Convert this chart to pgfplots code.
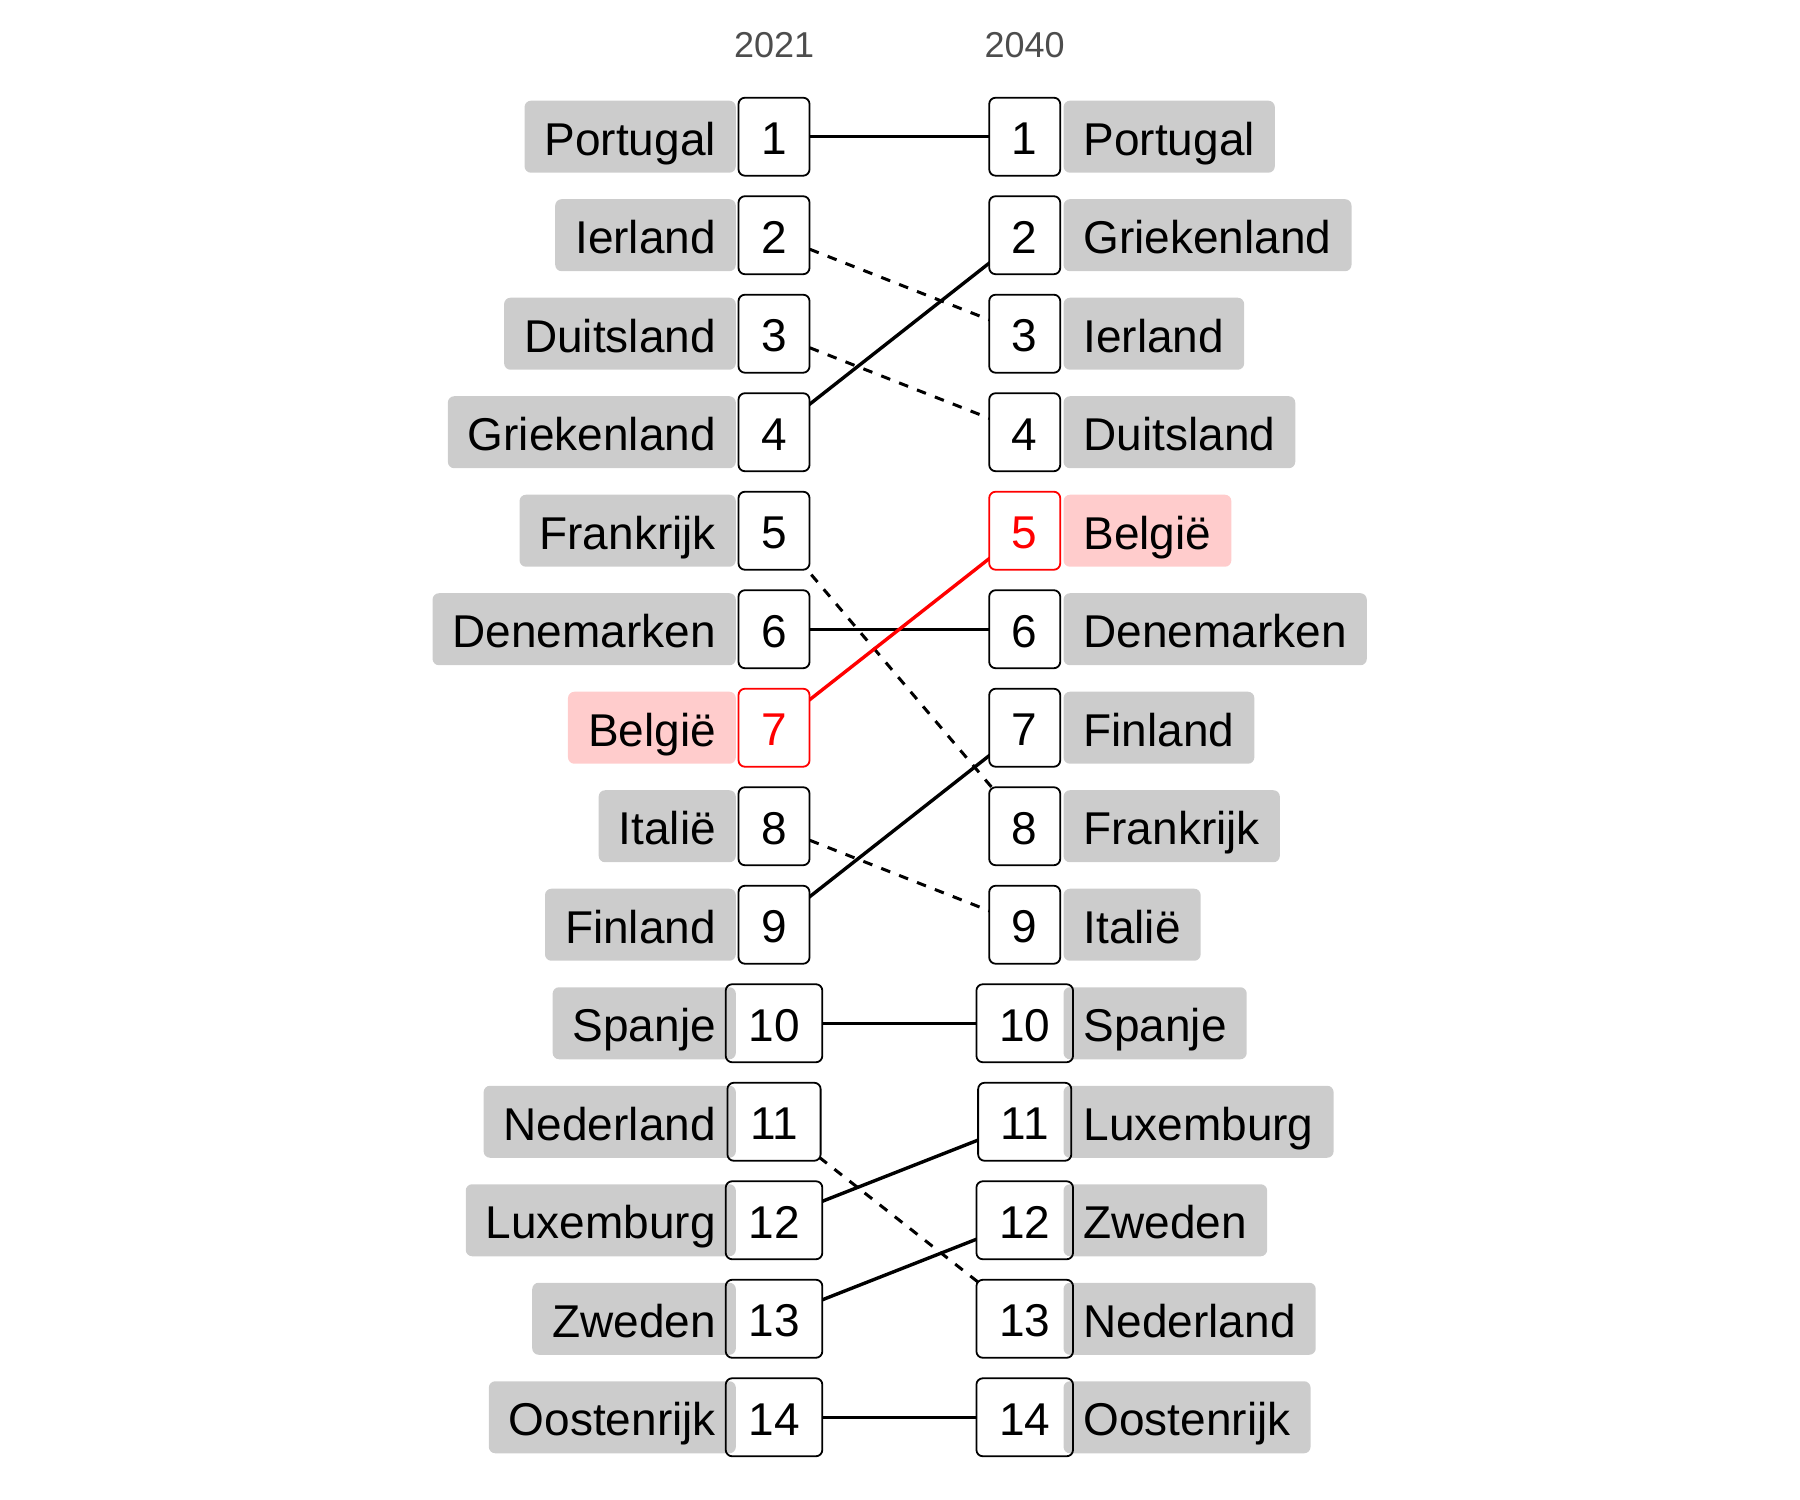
\documentclass[border=0pt]{standalone}
\usepackage{fontspec}
\setmainfont{Liberation Sans}
\usepackage{pgfplots}
\pgfplotsset{compat=1.18}
\definecolor{lblgray}{HTML}{CCCCCC}
\definecolor{lblpink}{HTML}{FFCCCC}
\definecolor{yeargray}{HTML}{4D4D4D}
\newcommand\bigf{\fontsize{11.54}{13}\selectfont}
\newcommand\yearf{\fontsize{9.03}{10.5}\selectfont}
\pgfplotsset{
  txt/.style={draw=none, mark=none, forget plot, point meta=explicit symbolic, nodes near coords},
  lbl/.style={txt, every node near coord/.append style={fill=#1, text=black, rounded corners=1.6bp, inner xsep=5bp, inner ysep=0pt, text height=13.6bp, text depth=4.4bp, font=\bigf}},
  lblL/.style={lbl=#1, every node near coord/.append style={anchor=east, xshift=-9.35bp}},
  lblR/.style={lbl=#1, every node near coord/.append style={anchor=west, xshift=9.5bp}},
  numbase/.style={txt, every node near coord/.append style={anchor=center, inner xsep=5.68bp, inner ysep=0pt, text height=14.3bp, text depth=5.2bp, rounded corners=1.6bp, font=\bigf}},
  numfill/.style={numbase, every node near coord/.append style={fill=white, draw=none, text opacity=0}},
  numdraw/.style={numbase, every node near coord/.append style={draw=#1, text=#1, line width=0.45bp}},
  up/.style={black, line width=0.85bp, mark=none},
  down/.style={black, line width=0.75bp, mark=none, dash pattern=on 2.4bp off 2.4bp},
}
\begin{document}
\begin{tikzpicture}
\path[use as bounding box] (0,0) rectangle (450bp,375bp);
\begin{axis}[
  at={(0,0)}, anchor=south west,
  width=450bp, height=375bp, scale only axis, hide axis, clip=false,
  xmin=-2.0874, xmax=5.0925, ymin=-0.3878, ymax=14.840, y dir=reverse,
]
% connecting lines (centre to centre, hidden under the boxes)
\addplot[up] coordinates {(1,1) (2,1)};
\addplot[up] coordinates {(1,4) (2,2)};
\addplot[up] coordinates {(1,6) (2,6)};
\addplot[up] coordinates {(1,9) (2,7)};
\addplot[up] coordinates {(1,10) (2,10)};
\addplot[up] coordinates {(1,12) (2,11)};
\addplot[up] coordinates {(1,13) (2,12)};
\addplot[up] coordinates {(1,14) (2,14)};
\addplot[down] coordinates {(1,2) (2,3)};
\addplot[down] coordinates {(1,3) (2,4)};
\addplot[down] coordinates {(1,5) (2,8)};
\addplot[down] coordinates {(1,8) (2,9)};
\addplot[down] coordinates {(1,11) (2,13)};
\addplot[red, line width=0.85bp, mark=none] coordinates {(1,7) (2,5)};
% white fill of the rank boxes
\addplot[numfill] coordinates {(1,1) [1] (1,2) [2] (1,3) [3] (1,4) [4] (1,5) [5] (1,6) [6] (1,7) [7] (1,8) [8] (1,9) [9] (1,10) [10] (1,11) [11] (1,12) [12] (1,13) [13] (1,14) [14]};
\addplot[numfill] coordinates {(2,1) [1] (2,2) [2] (2,3) [3] (2,4) [4] (2,5) [5] (2,6) [6] (2,7) [7] (2,8) [8] (2,9) [9] (2,10) [10] (2,11) [11] (2,12) [12] (2,13) [13] (2,14) [14]};
% country labels
\addplot[lblL=lblgray] coordinates {(1,1) [Portugal] (1,2) [Ierland] (1,3) [Duitsland] (1,4) [Griekenland] (1,5) [Frankrijk] (1,6) [Denemarken] (1,8) [Italië] (1,9) [Finland] (1,10) [Spanje] (1,11) [Nederland] (1,12) [Luxemburg] (1,13) [Zweden] (1,14) [Oostenrijk]};
\addplot[lblL=lblpink] coordinates {(1,7) [België]};
\addplot[lblR=lblgray] coordinates {(2,1) [Portugal] (2,2) [Griekenland] (2,3) [Ierland] (2,4) [Duitsland] (2,6) [Denemarken] (2,7) [Finland] (2,8) [Frankrijk] (2,9) [Italië] (2,10) [Spanje] (2,11) [Luxemburg] (2,12) [Zweden] (2,13) [Nederland] (2,14) [Oostenrijk]};
\addplot[lblR=lblpink] coordinates {(2,5) [België]};
% rank box borders and numbers
\addplot[numdraw=black] coordinates {(1,1) [1] (1,2) [2] (1,3) [3] (1,4) [4] (1,5) [5] (1,6) [6] (1,8) [8] (1,9) [9] (1,10) [10] (1,11) [11] (1,12) [12] (1,13) [13] (1,14) [14]};
\addplot[numdraw=red] coordinates {(1,7) [7]};
\addplot[numdraw=black] coordinates {(2,1) [1] (2,2) [2] (2,3) [3] (2,4) [4] (2,6) [6] (2,7) [7] (2,8) [8] (2,9) [9] (2,10) [10] (2,11) [11] (2,12) [12] (2,13) [13] (2,14) [14]};
\addplot[numdraw=red] coordinates {(2,5) [5]};
% year headers
\addplot[txt, every node near coord/.append style={anchor=center, text=yeargray, font=\yearf}] coordinates {(1,0.069) [2021] (2,0.069) [2040]};
\end{axis}
\end{tikzpicture}
\end{document}
